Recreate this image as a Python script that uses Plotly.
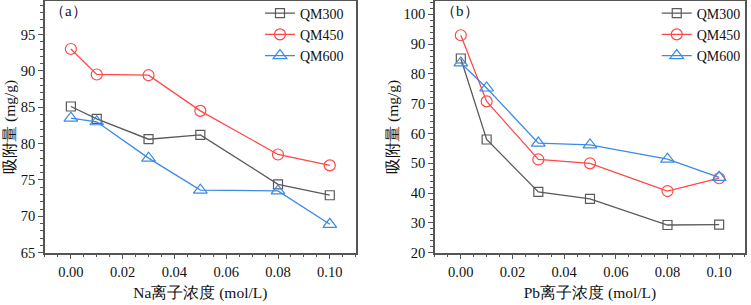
import plotly.graph_objects as go

x_vals = [0.00, 0.01, 0.03, 0.05, 0.08, 0.10]
series_names = ["QM300", "QM450", "QM600"]

na_qm300 = [85.1, 83.4, 80.6, 81.2, 74.4, 72.9]
na_qm450 = [93.0, 89.5, 89.4, 84.5, 78.5, 77.0]
na_qm600 = [83.5, 83.0, 78.0, 73.6, 73.5, 68.9]

pb_qm300 = [85.2, 58.0, 40.4, 38.1, 29.3, 29.4]
pb_qm450 = [93.0, 70.8, 51.3, 50.0, 40.7, 45.0]
pb_qm600 = [83.7, 75.3, 56.8, 56.2, 51.4, 45.3]

x_ticks = [0.00, 0.02, 0.04, 0.06, 0.08, 0.10]
x_ticklabels = ["0.00", "0.02", "0.04", "0.06", "0.08", "0.10"]

colors = ["#5a5a5a", "#ff4747", "#3a8ae6"]
symbols = ["square-open", "circle-open", "triangle-up-open"]
msizes = [9, 11, 12]

FONT = "Liberation Serif, serif"

fig = go.Figure()

panels = [
    ([na_qm300, na_qm450, na_qm600], "x", "y", "legend"),
    ([pb_qm300, pb_qm450, pb_qm600], "x2", "y2", "legend2"),
]
for data, xa, ya, lg in panels:
    for name, vals, c, s, ms in zip(series_names, data, colors, symbols, msizes):
        fig.add_trace(go.Scatter(
            x=x_vals, y=vals, name=name, mode="lines+markers",
            line=dict(color=c, width=1.3),
            marker=dict(symbol=s, size=ms, color=c, line=dict(width=1.2, color=c)),
            xaxis=xa, yaxis=ya, legend=lg,
        ))

axis_common = dict(
    showline=True, linecolor="#555555", linewidth=1.5, mirror=True,
    ticks="outside", ticklen=5, tickwidth=1.2, tickcolor="#555555",
    showgrid=False, zeroline=False, automargin=False,
    tickfont=dict(family=FONT, size=14.5, color="#111111"),
    minor=dict(ticks="outside", ticklen=3, tickwidth=1, tickcolor="#555555", showgrid=False),
)

title_font = dict(family=FONT, size=15.5, color="#111111")
leg_font = dict(family=FONT, size=14, color="#111111")

fig.update_layout(
    width=751, height=305,
    margin=dict(l=0, r=0, t=0, b=0, autoexpand=False),
    paper_bgcolor="white", plot_bgcolor="white",
    font=dict(family=FONT),
    xaxis=dict(domain=[0.0599, 0.4736], range=[-0.01, 0.11], tickvals=x_ticks,
               ticktext=x_ticklabels, anchor="y",
               title=dict(text="Na离子浓度 (mol/L)", font=title_font, standoff=8),
               **axis_common),
    yaxis=dict(domain=[0.1715, 0.9967], range=[65, 99.6], dtick=5, anchor="x",
               title=dict(text="吸附量 (mg/g)", font=title_font, standoff=1),
               **axis_common),
    xaxis2=dict(domain=[0.5792, 0.992], range=[-0.01, 0.11], tickvals=x_ticks,
                ticktext=x_ticklabels, anchor="y2",
                title=dict(text="Pb离子浓度 (mol/L)", font=title_font, standoff=8),
                **axis_common),
    yaxis2=dict(domain=[0.1715, 0.9967], range=[20, 104.5], dtick=10, anchor="x2",
                title=dict(text="吸附量 (mg/g)", font=title_font, standoff=1),
                **axis_common),
    legend=dict(x=0.4647, y=1.008, xanchor="right", yanchor="top",
                bgcolor="rgba(0,0,0,0)", font=leg_font,
                tracegroupgap=0, itemwidth=30),
    legend2=dict(x=0.993, y=1.008, xanchor="right", yanchor="top",
                 bgcolor="rgba(0,0,0,0)", font=leg_font,
                 tracegroupgap=0, itemwidth=30),
    annotations=[
        dict(text="（a）", x=0.064, y=0.997, xref="paper", yref="paper",
             xanchor="left", yanchor="top", showarrow=False,
             font=dict(family=FONT, size=15, color="#111111")),
        dict(text="（b）", x=0.584, y=0.997, xref="paper", yref="paper",
             xanchor="left", yanchor="top", showarrow=False,
             font=dict(family=FONT, size=15, color="#111111")),
    ],
    showlegend=True,
)

fig.write_html("out.html", config={"displayModeBar": False},
               post_script="document.body.style.margin='0';")
